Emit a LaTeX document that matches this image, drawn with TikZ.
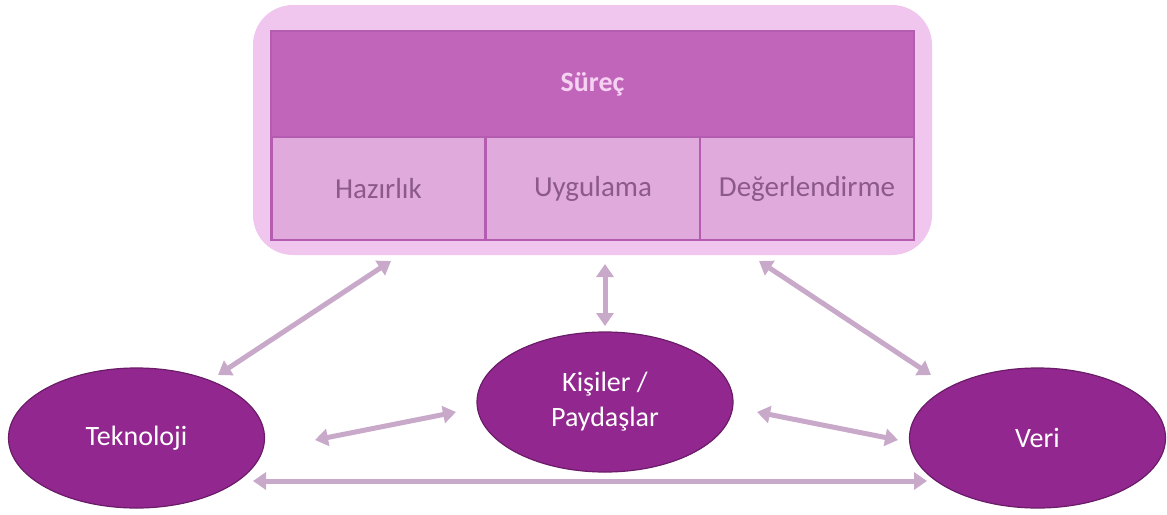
\documentclass[tikz,border=0pt]{standalone}
\usepackage{fontspec}
\setmainfont{Carlito}
\usetikzlibrary{arrows.meta,shapes.geometric}
\definecolor{frame}{HTML}{F0C5EE}
\definecolor{headfill}{HTML}{C065BA}
\definecolor{cellfill}{HTML}{E0ABDC}
\definecolor{rule}{HTML}{B35CB0}
\definecolor{headtext}{HTML}{F6D2F2}
\definecolor{celltext}{HTML}{8B5A8A}
\definecolor{blob}{HTML}{92278F}
\definecolor{blobedge}{HTML}{6B1C69}
\definecolor{link}{HTML}{C9A9C9}
\tikzset{
  cell/.style={draw=rule, line width=2.5pt, fill=cellfill, minimum width=214pt,
    minimum height=103pt, inner sep=0pt, text=celltext,
    font=\fontsize{29}{34}\selectfont},
  topic/.style={ellipse, draw=blobedge, line width=1.2pt, fill=blob, text=white,
    minimum width=256pt, minimum height=140pt, inner sep=0pt, align=center,
    font=\fontsize{28}{35}\selectfont},
  link/.style={draw=link, line width=5pt,
    {Triangle[length=13pt,width=17pt]}-{Triangle[length=13pt,width=17pt]}}
}
\begin{document}
\begin{tikzpicture}[x=1pt,y=-1pt]
\useasboundingbox (0,0) rectangle (1167,514);
% outer frame of the process block
\node[fill=frame, rounded corners=40pt, minimum width=679pt, minimum height=250pt,
  inner sep=0pt] (frame) at (592.5,130) {};
% header row
\node[draw=rule, line width=2.5pt, fill=headfill, minimum width=643pt,
  minimum height=106pt, inner sep=0pt, text=headtext,
  font=\fontsize{28}{34}\selectfont\bfseries] (surec) at (592.5,84) {Süreç};
% phase cells
\node[cell] (hazirlik) at (378.5,188.5) {\raisebox{-2pt}{Hazırlık}};
\node[cell] (uygulama) at (593,188.5) {\raisebox{-2pt}{Uygulama}};
\node[cell] (degerl) at (807,188.5) {\raisebox{-2pt}{Değerlendirme}};
% topics
\node[topic] (tek) at (136.5,438) {Teknoloji};
\node[topic] (kisi) at (605,402) {Kişiler /\\Paydaşlar};
\node[topic] (veri) at (1037.5,438) {Veri};
% connector ends
\coordinate (a1) at (218,375); \coordinate (a2) at (391,261);
\coordinate (b1) at (605,264); \coordinate (b2) at (605,326);
\coordinate (c1) at (759,261); \coordinate (c2) at (931,375);
\coordinate (d1) at (315,440); \coordinate (d2) at (456,412);
\coordinate (e1) at (757,412); \coordinate (e2) at (898,440);
\coordinate (f1) at (253,481); \coordinate (f2) at (927,481);
\draw[link] (a1) -- (a2);
\draw[link] (b1) -- (b2);
\draw[link] (c1) -- (c2);
\draw[link] (d1) -- (d2);
\draw[link] (e1) -- (e2);
\draw[link] (f1) -- (f2);
\end{tikzpicture}
\end{document}
